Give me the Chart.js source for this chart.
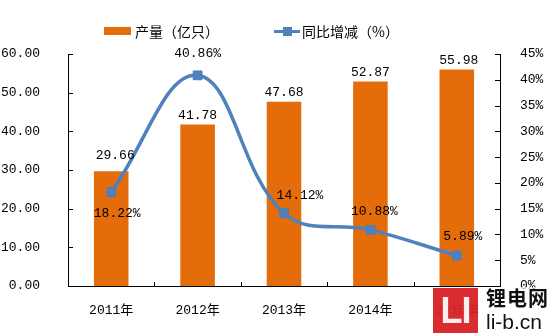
<!DOCTYPE html>
<html>
<head>
<meta charset="utf-8">
<script src="https://cdn.jsdelivr.net/npm/chart.js@4.4.1/dist/chart.umd.min.js"></script>
<style>
  html,body{margin:0;padding:0;background:#fff;}
  #wrap{position:relative;width:550px;height:335px;overflow:hidden;}
  canvas{position:absolute;left:0;top:0;}
  .lg{position:absolute;font-family:"Noto Sans CJK SC",sans-serif;font-size:14px;line-height:16px;color:#000;white-space:nowrap;}
  #wm{position:absolute;left:428px;top:287px;width:122px;height:48px;background:rgba(255,255,255,0.6);}
  #wmbox{position:absolute;left:433px;top:288px;width:45px;height:45px;background:rgba(212,15,20,0.88);color:rgba(255,255,255,0.92);font:bold 36px "Liberation Sans",sans-serif;line-height:45px;text-align:center;letter-spacing:-1px;}
  #wm1{position:absolute;left:486px;top:286px;font:bold 20px "Noto Sans CJK SC",sans-serif;line-height:24px;color:#111;letter-spacing:1px;}
  #wm2{position:absolute;left:486px;top:311px;font:21px "Liberation Sans",sans-serif;line-height:22px;color:#111;}
</style>
</head>
<body>
<div id="wrap">
  <canvas id="c" width="550" height="335"></canvas>
  <div style="position:absolute;left:104px;top:27px;width:27px;height:8px;background:#E46C0A;"></div>
  <div class="lg" style="left:135px;top:23px;">产量（亿只）</div>
  <div style="position:absolute;left:274px;top:30px;width:26px;height:3px;background:#4F81BD;"></div>
  <div style="position:absolute;left:283px;top:27px;width:9px;height:9px;background:#4F81BD;"></div>
  <div class="lg" style="left:302px;top:23px;">同比增减（%）</div>
  <div id="wm"></div>
  <div id="wmbox">LI</div>
  <div id="wm1">锂电网</div>
  <div id="wm2">li-b.cn</div>
</div>
<script>
const categories = ["2011年", "2012年", "2013年", "2014年", "2015年"];
const output = [29.66, 41.78, 47.68, 52.87, 55.98];
const growth = [18.22, 40.86, 14.12, 10.88, 5.89];
const leftTicks = [0, 10, 20, 30, 40, 50, 60];
const rightTicks = [0, 5, 10, 15, 20, 25, 30, 35, 40, 45];

const numFont = '13px "Liberation Mono", "Noto Sans CJK SC", monospace';

// label offsets (style only)
const barLabelDy = [-16, -9, -9, -9, -9];
const barLabelDx = [4, 0, 0, 0, 2];
const lineLabelOff = [[6, 21], [0, -22], [16, -18], [4, -18], [6, -19]];

const innerTicks = {
  id: 'innerTicks',
  afterDraw(chart) {
    const ctx = chart.ctx;
    const a = chart.chartArea;
    ctx.save();
    ctx.strokeStyle = '#000';
    ctx.lineWidth = 1;
    const yl = chart.scales.y, yr = chart.scales.y1, x = chart.scales.x;
    ctx.beginPath();
    leftTicks.forEach(v => {
      const py = Math.round(yl.getPixelForValue(v)) + 0.5;
      ctx.moveTo(a.left, py); ctx.lineTo(a.left + 5, py);
    });
    rightTicks.forEach(v => {
      const py = Math.round(yr.getPixelForValue(v)) + 0.5;
      ctx.moveTo(a.right, py); ctx.lineTo(a.right - 5, py);
    });
    for (let i = 1; i < categories.length; i++) {
      const px = Math.round((x.getPixelForValue(i - 1) + x.getPixelForValue(i)) / 2) + 0.5;
      ctx.moveTo(px, a.bottom); ctx.lineTo(px, a.bottom - 4);
    }
    ctx.stroke();
    ctx.restore();
  },
  afterDatasetsDraw(chart) {
    const ctx = chart.ctx;
    ctx.save();
    ctx.font = numFont;
    ctx.fillStyle = '#000';
    ctx.textAlign = 'center';
    ctx.textBaseline = 'middle';
    const bm = chart.getDatasetMeta(0);
    bm.data.forEach((el, i) => {
      ctx.fillText(output[i].toFixed(2), el.x + barLabelDx[i], el.y + barLabelDy[i] );
    });
    const lm = chart.getDatasetMeta(1);
    lm.data.forEach((el, i) => {
      ctx.fillText(growth[i].toFixed(2) + '%', el.x + lineLabelOff[i][0], el.y + lineLabelOff[i][1]);
    });
    ctx.restore();
  }
};

new Chart(document.getElementById('c'), {
  data: {
    labels: categories,
    datasets: [
      {
        type: 'bar',
        label: '产量（亿只）',
        data: output,
        backgroundColor: '#E46C0A',
        yAxisID: 'y',
        order: 1,
        categoryPercentage: 0.8,
        barPercentage: 0.5
      },
      {
        type: 'line',
        label: '同比增减（%）',
        data: growth,
        borderColor: '#4F81BD',
        backgroundColor: '#4F81BD',
        borderWidth: 3.5,
        pointStyle: 'rect',
        pointRadius: 6.2,
        pointBorderWidth: 1,
        pointBorderColor: '#4A7EBB',
        pointBackgroundColor: '#4F81BD',
        tension: 0.4,
        yAxisID: 'y1',
        order: 0
      }
    ]
  },
  options: {
    responsive: false,
    devicePixelRatio: 1,
    animation: false,
    layout: { padding: { top: 54, left: 0, right: 0, bottom: 0 } },
    plugins: { legend: { display: false }, tooltip: { enabled: false } },
    scales: {
      x: {
        grid: { display: false },
        border: { display: true, color: '#000', width: 1 },
        ticks: { font: { family: '"Liberation Mono", "Noto Sans CJK SC", monospace', size: 13 }, color: '#000', padding: 9 },
        afterFit(s) { s.height = 49; }
      },
      y: {
        position: 'left',
        min: 0, max: 60,
        afterBuildTicks(s) { s.ticks = leftTicks.map(v => ({ value: v })); },
        grid: { display: false },
        border: { display: true, color: '#000', width: 1 },
        ticks: { font: { family: '"Liberation Mono", monospace', size: 13 }, color: '#000', padding: 20,
          callback: v => Number(v).toFixed(2) },
        afterFit(s) { s.width = 68; }
      },
      y1: {
        position: 'right',
        min: 0, max: 45,
        afterBuildTicks(s) { s.ticks = rightTicks.map(v => ({ value: v })); },
        grid: { display: false },
        border: { display: true, color: '#000', width: 1 },
        ticks: { font: { family: '"Liberation Mono", monospace', size: 13 }, color: '#000', padding: 12,
          callback: v => v + '%' },
        afterFit(s) { s.width = 50; }
      }
    }
  },
  plugins: [innerTicks]
});
</script>
</body>
</html>
